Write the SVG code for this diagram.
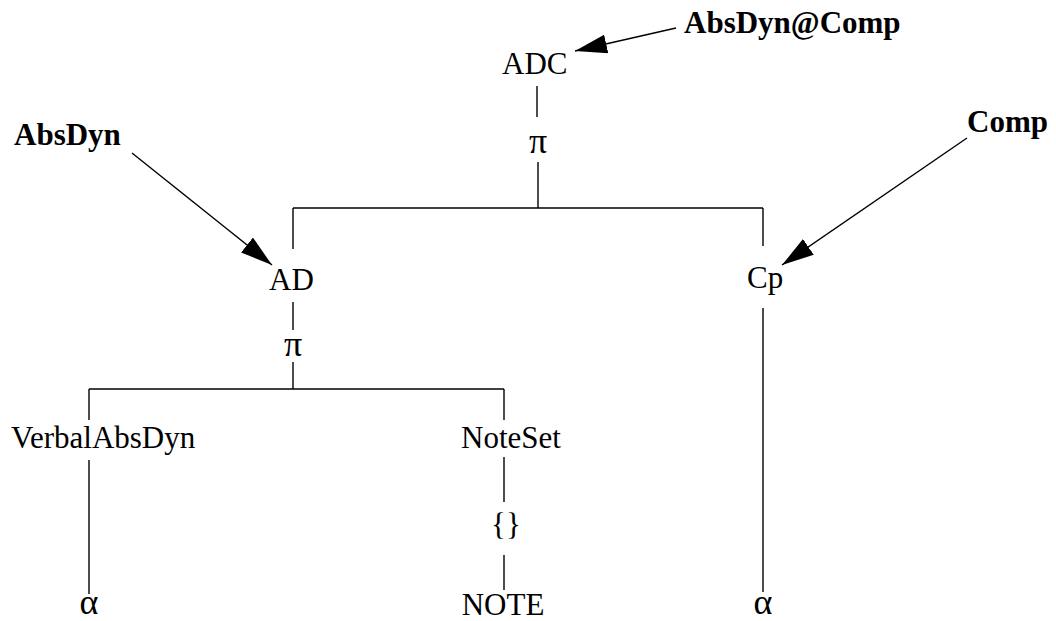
<svg xmlns="http://www.w3.org/2000/svg" width="1056" height="621" viewBox="0 0 1056 621">
<style>
text{font-family:"Liberation Serif","Times New Roman",serif;font-size:31px;fill:#000}
.b{font-weight:bold}
.m{text-anchor:middle}
.g{font-size:36px}
.e line{stroke:#000;stroke-width:1.4}
.a{stroke:#000;stroke-width:1.4;marker-end:url(#ah)}
</style>
<defs>
<marker id="ah" markerUnits="userSpaceOnUse" markerWidth="34" markerHeight="20" refX="32" refY="9.5" orient="auto">
<path d="M0,0 L32,9.5 L0,19 Z" fill="#000"/>
</marker>
</defs>
<rect width="1056" height="621" fill="#fff"/>
<g id="connectors" class="e">
<line x1="537" y1="86" x2="537" y2="117"/>
<line x1="538" y1="162" x2="538" y2="208"/>
<line x1="293" y1="208" x2="763" y2="208"/>
<line x1="293" y1="208" x2="293" y2="249"/>
<line x1="763" y1="208" x2="763" y2="246"/>
<line x1="293" y1="302" x2="293" y2="330"/>
<line x1="293" y1="362" x2="293" y2="389"/>
<line x1="89" y1="389" x2="504" y2="389"/>
<line x1="89" y1="389" x2="89" y2="420"/>
<line x1="504" y1="389" x2="504" y2="420"/>
<line x1="89" y1="460" x2="89" y2="594"/>
<line x1="504" y1="457" x2="504" y2="502"/>
<line x1="504" y1="555" x2="504" y2="590"/>
<line x1="763" y1="308" x2="763" y2="592"/>
<line class="a" x1="676" y1="28" x2="575" y2="51"/>
<line class="a" x1="132" y1="153" x2="272" y2="265"/>
<line class="a" x1="967" y1="138" x2="782" y2="265"/>
</g>
<g id="n-absdyncomp"><text class="b" x="684" y="33">AbsDyn@Comp</text></g>
<g id="n-adc"><text x="502" y="74">ADC</text></g>
<g id="n-pi1"><text class="m g" x="538" y="153">π</text></g>
<g id="n-absdyn"><text class="b" x="14" y="145">AbsDyn</text></g>
<g id="n-comp"><text class="b" x="967" y="132">Comp</text></g>
<g id="n-ad"><text x="269" y="290">AD</text></g>
<g id="n-cp"><text x="747" y="288">Cp</text></g>
<g id="n-pi2"><text class="m g" x="293" y="356">π</text></g>
<g id="n-verbal"><text x="11" y="448">VerbalAbsDyn</text></g>
<g id="n-noteset"><text x="461" y="448">NoteSet</text></g>
<g id="n-braces"><text class="m" x="506" y="535">{}</text></g>
<g id="n-alpha1"><text class="m g" x="89" y="614">α</text></g>
<g id="n-note"><text class="m" x="503" y="615">NOTE</text></g>
<g id="n-alpha2"><text class="m g" x="763" y="614">α</text></g>
</svg>
